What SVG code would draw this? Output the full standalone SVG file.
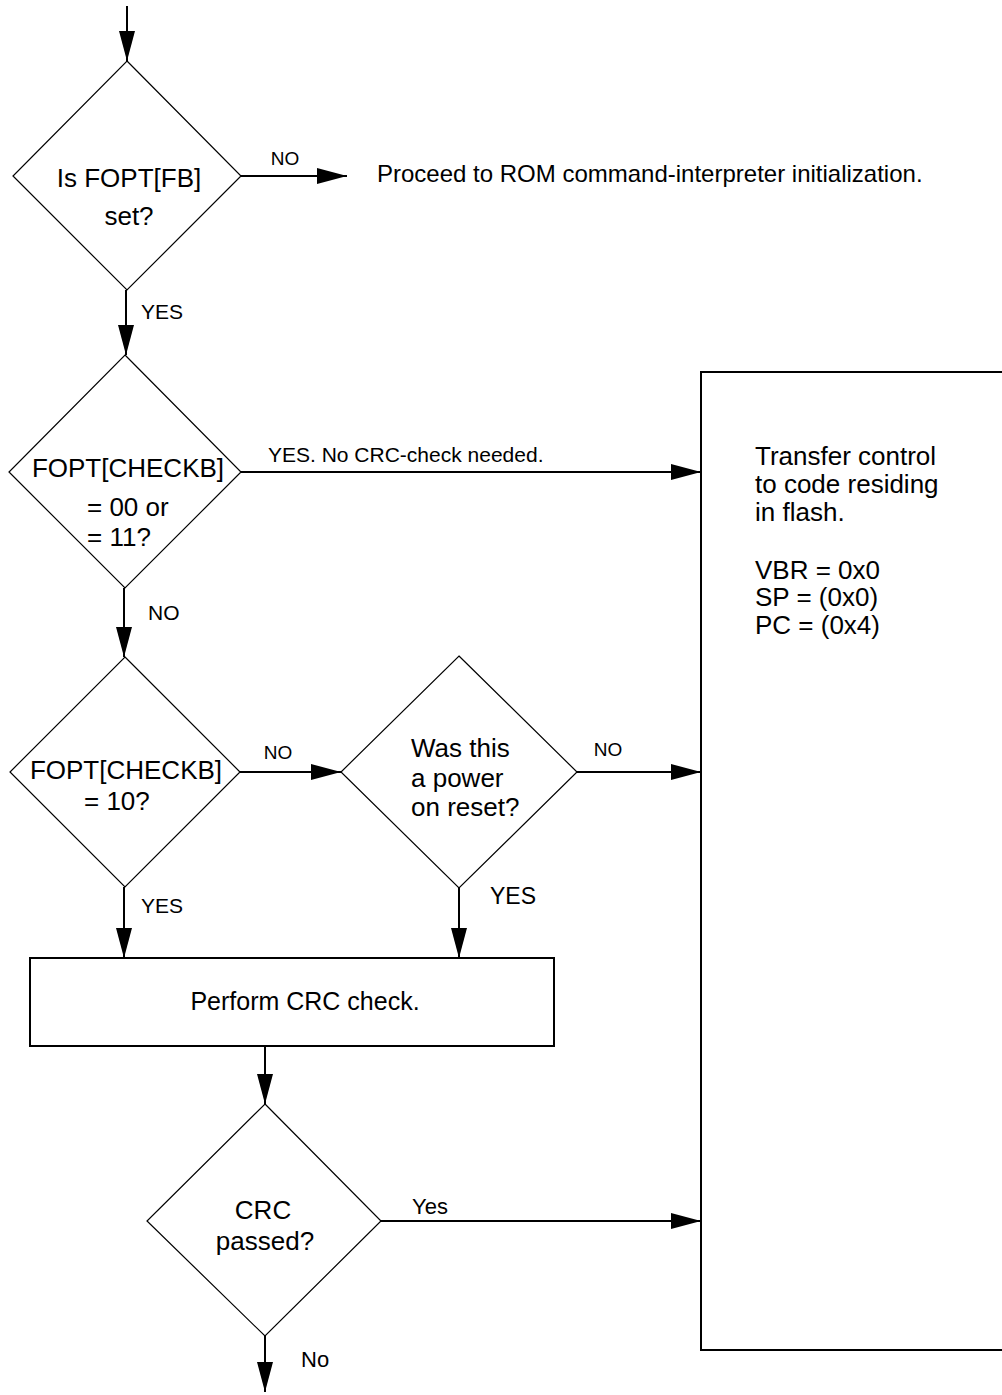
<svg xmlns="http://www.w3.org/2000/svg" width="1002" height="1395" viewBox="0 0 1002 1395">
<style>
text{font-family:"Liberation Sans",Arial,sans-serif;fill:#000}
.dia{fill:#fff;stroke:#000;stroke-width:1.2}
.box{fill:#fff;stroke:#000;stroke-width:2}
.con{stroke:#000;stroke-width:2;fill:none}
.lbl{font-size:26px}
.sm{font-size:19px}
.md{font-size:21px}
</style>
<defs>
<marker id="ah" markerUnits="userSpaceOnUse" markerWidth="31" markerHeight="17" refX="30" refY="8" orient="auto">
<path d="M0,0 L30,8 L0,16 Z" fill="#000"/>
</marker>
</defs>
<g id="connectors">
<line class="con" x1="127" y1="6" x2="127" y2="61" marker-end="url(#ah)"/>
<line class="con" x1="241" y1="176" x2="347" y2="176" marker-end="url(#ah)"/>
<line class="con" x1="126" y1="290" x2="126" y2="355" marker-end="url(#ah)"/>
<line class="con" x1="241" y1="472" x2="701" y2="472" marker-end="url(#ah)"/>
<line class="con" x1="124" y1="588" x2="124" y2="657" marker-end="url(#ah)"/>
<line class="con" x1="240" y1="772" x2="341" y2="772" marker-end="url(#ah)"/>
<line class="con" x1="577" y1="772" x2="701" y2="772" marker-end="url(#ah)"/>
<line class="con" x1="124" y1="887" x2="124" y2="958" marker-end="url(#ah)"/>
<line class="con" x1="459" y1="888" x2="459" y2="958" marker-end="url(#ah)"/>
<line class="con" x1="265" y1="1046" x2="265" y2="1104" marker-end="url(#ah)"/>
<line class="con" x1="381" y1="1221" x2="701" y2="1221" marker-end="url(#ah)"/>
<line class="con" x1="265" y1="1336" x2="265" y2="1392" marker-end="url(#ah)"/>
<text class="sm" x="285" y="165" text-anchor="middle">NO</text>
<text class="md" x="141" y="319">YES</text>
<text class="md" x="268" y="462">YES. No CRC-check needed.</text>
<text class="md" x="148" y="620">NO</text>
<text class="sm" x="278" y="759" text-anchor="middle">NO</text>
<text class="sm" x="608" y="756" text-anchor="middle">NO</text>
<text class="md" x="141" y="913">YES</text>
<text class="md" style="font-size:23px" x="490" y="904">YES</text>
<text class="md" style="font-size:22px" x="412" y="1214">Yes</text>
<text class="md" style="font-size:22px" x="301" y="1367">No</text>
</g>
<g id="d1">
<polygon class="dia" points="127,61 241,176 127,290 13,176"/>
<text class="lbl" x="129" y="187" text-anchor="middle">Is FOPT[FB]</text>
<text class="lbl" x="129" y="225" text-anchor="middle">set?</text>
</g>
<g id="rom">
<text style="font-size:24px" x="377" y="182">Proceed to ROM command-interpreter initialization.</text>
</g>
<g id="d2">
<polygon class="dia" points="125,355 241,472 125,588 9,472"/>
<text class="lbl" x="128" y="477" text-anchor="middle">FOPT[CHECKB]</text>
<text class="lbl" x="87" y="516">= 00 or</text>
<text class="lbl" x="87" y="546">= 11?</text>
</g>
<g id="d3">
<polygon class="dia" points="125,657 240,772 125,887 10,772"/>
<text class="lbl" x="126" y="779" text-anchor="middle">FOPT[CHECKB]</text>
<text class="lbl" x="84" y="810">= 10?</text>
</g>
<g id="d4">
<polygon class="dia" points="459,656 577,772 459,888 341,772"/>
<text class="lbl" x="411" y="757">Was this</text>
<text class="lbl" x="411" y="787">a power</text>
<text class="lbl" x="411" y="816">on reset?</text>
</g>
<g id="crc-box">
<rect class="box" x="30" y="958" width="524" height="88"/>
<text style="font-size:25px" x="305" y="1010" text-anchor="middle">Perform CRC check.</text>
</g>
<g id="d5">
<polygon class="dia" points="265,1104 381,1221 265,1336 147,1221"/>
<text class="lbl" x="263" y="1219" text-anchor="middle">CRC</text>
<text class="lbl" x="265" y="1250" text-anchor="middle">passed?</text>
</g>
<g id="flash">
<rect class="box" x="701" y="372" width="320" height="978"/>
<text class="lbl" x="755" y="465">Transfer control</text>
<text class="lbl" x="755" y="493">to code residing</text>
<text class="lbl" x="755" y="521">in flash.</text>
<text class="lbl" x="755" y="579">VBR = 0x0</text>
<text class="lbl" x="755" y="606">SP = (0x0)</text>
<text class="lbl" x="755" y="634">PC = (0x4)</text>
</g>
</svg>
